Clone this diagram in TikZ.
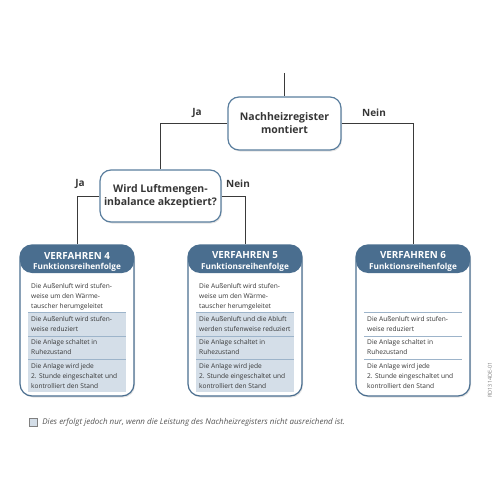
\documentclass[tikz,border=0pt]{standalone}
\usepackage{fontspec}
\setmainfont{Open Sans}
\usetikzlibrary{positioning, shadows}
\definecolor{headblue}{HTML}{4A6E8F}
\definecolor{nodeblue}{HTML}{5A7E9E}
\definecolor{rowshade}{HTML}{D4DEE8}
\definecolor{sepblue}{HTML}{9DB4CA}
\definecolor{textgray}{HTML}{363636}
\definecolor{linegray}{HTML}{3A3A3A}
\tikzset{
	decnode/.style={
			rectangle,
			rounded corners=11pt,
			draw=nodeblue,
			line width=1.2pt,
			fill=white,
			minimum width=113pt,
			minimum height=53pt,
			align=center,
			text=textgray,
			font=\fontsize{10.5}{13}\selectfont\bfseries,
			drop shadow={opacity=0.22, shadow xshift=1pt, shadow yshift=-1.5pt}
		},
	procbox/.style={
			rectangle,
			rounded corners=12pt,
			draw=headblue,
			line width=1.2pt,
			fill=white,
			minimum width=114pt,
			minimum height=151pt,
			inner sep=0pt,
			drop shadow={opacity=0.22, shadow xshift=1pt, shadow yshift=-1.5pt},
			path picture={\fill[headblue] (path picture bounding box.north west)
				rectangle ([yshift=-28pt]path picture bounding box.north east);}
		},
	headtitle/.style={
			text=white,
			font=\fontsize{9.8}{11}\selectfont\bfseries
		},
	headsub/.style={
			text=white,
			font=\fontsize{8.2}{10}\selectfont\bfseries
		},
	rowtext/.style={
			anchor=west,
			align=left,
			inner sep=0pt,
			text=textgray,
			font=\fontsize{6.6}{10}\selectfont
		},
	answer/.style={
			text=textgray,
			font=\fontsize{10}{12}\selectfont\bfseries
		},
	conn/.style={
			draw=linegray,
			line width=1pt
		},
	sepline/.style={
			draw=sepblue,
			line width=0.8pt
		}
}

\begin{document}
\begin{tikzpicture}[x=1pt, y=-1pt]
\useasboundingbox (0,0) rectangle (500,500);

\node[decnode] (q1) at (284.5,123.5) {Nachheizregister\\montiert};
\node[decnode, minimum width=121pt, minimum height=52pt] (q2) at (160.5,196)
  {Wird Luftmengen-\\inbalance akzeptiert?};

\node[procbox] (v4) at (77,320.5) {};
\node[procbox] (v5) at (245,320.5) {};
\node[procbox] (v6) at (413,320.5) {};

\coordinate (start) at (284.5,73);
\draw[conn] (start) -- (q1);
\draw[conn] (q1.west) -| (q2.north);
\draw[conn] (q1.east) -| (v6.north);
\draw[conn] (q2.west) -| (v4.north);
\draw[conn] (q2.east) -| (v5.north);

\node[answer] (a1) at (197,113) {Ja};
\node[answer] (a2) at (374,113) {Nein};
\node[answer] (a3) at (80,184) {Ja};
\node[answer] (a4) at (238,184) {Nein};

% headers
\node[headtitle] (h4) at (77,255.5) {VERFAHREN 4};
\node[headsub] (s4) at (77,267) {Funktionsreihenfolge};
\node[headtitle] (h5) at (245,255.5) {VERFAHREN 5};
\node[headsub] (s5) at (245,267) {Funktionsreihenfolge};
\node[headtitle] (h6) at (413,255.5) {VERFAHREN 6};
\node[headsub] (s6) at (413,267) {Funktionsreihenfolge};

% Verfahren 4
\fill[rowshade] (28,312) rectangle (126,392);
\draw[sepline] (28,312) -- (126,312) (28,336) -- (126,336) (28,359) -- (126,359);
\node[rowtext] (r41) at (31,296.5) {Die Außenluft wird stufen-\\weise um den Wärme-\\tauscher herumgeleitet};
\node[rowtext] (r42) at (31,324) {Die Außenluft wird stufen-\\weise reduziert};
\node[rowtext] (r43) at (31,347.5) {Die Anlage schaltet in\\Ruhezustand};
\node[rowtext] (r44) at (31,376) {Die Anlage wird jede\\2. Stunde eingeschaltet und\\kontrolliert den Stand};

% Verfahren 5
\fill[rowshade] (196,312) rectangle (294,392);
\draw[sepline] (196,312) -- (294,312) (196,336) -- (294,336) (196,359) -- (294,359);
\node[rowtext] (r51) at (199,296.5) {Die Außenluft wird stufen-\\weise um den Wärme-\\tauscher herumgeleitet};
\node[rowtext] (r52) at (199,324) {Die Außenluft und die Abluft\\werden stufenweise reduziert};
\node[rowtext] (r53) at (199,347.5) {Die Anlage schaltet in\\Ruhezustand};
\node[rowtext] (r54) at (199,376) {Die Anlage wird jede\\2. Stunde eingeschaltet und\\kontrolliert den Stand};

% Verfahren 6
\draw[sepline] (364,312) -- (462,312) (364,336) -- (462,336) (364,359) -- (462,359);
\node[rowtext] (r62) at (367,324) {Die Außenluft wird stufen-\\weise reduziert};
\node[rowtext] (r63) at (367,347.5) {Die Anlage schaltet in\\Ruhezustand};
\node[rowtext] (r64) at (367,376) {Die Anlage wird jede\\2. Stunde eingeschaltet und\\kontrolliert den Stand};

% legend
\node[draw=gray, fill=rowshade, minimum size=8pt, inner sep=0pt] (key) at (33,422) {};
\node[right=5pt of key, inner sep=0pt, text=textgray!85, font=\fontsize{8}{10}\selectfont\itshape] (note)
  {Dies erfolgt jedoch nur, wenn die Leistung des Nachheizregisters nicht ausreichend ist.};

\node[rotate=90, text=gray, font=\fontsize{5.5}{6}\selectfont] (code) at (490,380) {RD1314DE-01};
\end{tikzpicture}
\end{document}
